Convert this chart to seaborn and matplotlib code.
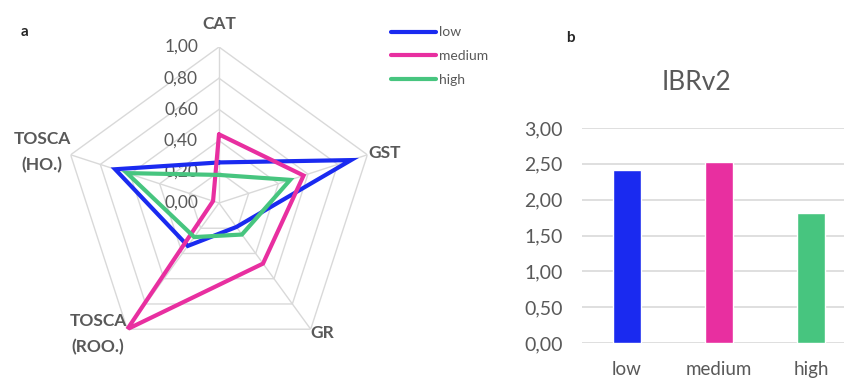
import numpy as np
import pandas as pd
import seaborn as sns
import matplotlib
matplotlib.use("Agg")
import matplotlib.pyplot as plt
import matplotlib.transforms as mtransforms

# radar data (panel a)
axes_labels = ["CAT", "GST", "GR", "TOSCA\n(ROO.)", "TOSCA\n(HO.)"]
low_vals = [0.26, 0.89, 0.19, 0.34, 0.70]
medium_vals = [0.44, 0.57, 0.48, 1.00, 0.04]
high_vals = [0.18, 0.48, 0.25, 0.27, 0.62]
radial_ticks = [0.0, 0.2, 0.4, 0.6, 0.8, 1.0]

# bar data (panel b)
groups = ["low", "medium", "high"]
ibr_vals = [2.42, 2.53, 1.82]
bar_ticks = [0.0, 0.5, 1.0, 1.5, 2.0, 2.5, 3.0]

colors = {"low": "#1a2af0", "medium": "#e82fa0", "high": "#47c57f"}
grey = "#595959"
gridc = "#d9d9d9"

sns.set_style("white")
plt.rcParams["font.family"] = ["Lato", "DejaVu Sans"]

fig = plt.figure(figsize=(8.45, 3.78), dpi=100)

# ---- radar ----
ax = fig.add_axes([63 / 845, 19 / 378, 312 / 845, 312 / 378], projection="polar")
ax.set_theta_zero_location("N")
ax.set_theta_direction(-1)
theta = np.deg2rad(np.arange(len(axes_labels)) * 72.0)
theta_c = np.append(theta, theta[0])
ax.set_ylim(0, 1)
ax.grid(False)
ax.spines["polar"].set_visible(False)
ax.set_xticks([])
ax.set_yticks([])
ax.patch.set_alpha(0)

for lev in radial_ticks[1:]:
    ax.plot(theta_c, [lev] * len(theta_c), color=gridc, lw=1, zorder=1)
for t in theta:
    ax.plot([t, t], [0, 1], color=gridc, lw=1, zorder=1)

for name, vals in [("low", low_vals), ("medium", medium_vals), ("high", high_vals)]:
    ax.plot(theta_c, vals + vals[:1], color=colors[name], lw=3, label=name,
            zorder=3, solid_joinstyle="miter")

off = mtransforms.offset_copy(ax.transData, fig=fig, x=-21, y=0, units="dots")
for lev in radial_ticks:
    ax.text(0, lev, f"{lev:.2f}".replace(".", ","), transform=off, ha="right",
            va="center", fontsize=12.5, color=grey, zorder=2)

label_pos = [(219, 24, "center"), (368, 153, "left"), (322, 333, "center"),
             (98, 334, "center"), (42, 152, "center")]
for lab, (px, py, ha) in zip(axes_labels, label_pos):
    fig.text(px / 845, 1 - py / 378, lab, ha=ha, va="center", fontsize=12.5,
             fontweight="bold", color=grey, linespacing=1.7)

fig.legend(loc="upper left", bbox_to_anchor=(379 / 845, 1 - 14 / 378), frameon=False,
           fontsize=10, handlelength=3.2, handletextpad=0.2, labelspacing=0.85,
           labelcolor=grey)

fig.text(25 / 845, 1 - 32 / 378, "a", fontsize=11, fontweight="bold", ha="center", va="center")
fig.text(570 / 845, 1 - 38 / 378, "b", fontsize=11, fontweight="bold", ha="center", va="center")

# ---- bars ----
bx = fig.add_axes([582 / 845, 35 / 378, 263 / 845, 215 / 378])
df = pd.DataFrame({"group": groups, "value": ibr_vals})
sns.barplot(data=df, x="group", y="value", hue="group", palette=colors, width=0.3,
            legend=False, ax=bx, saturation=1, zorder=3)
bx.set_ylim(0, 3)
bx.set_xlim(-0.49, 2.37)
bx.set_yticks(bar_ticks)
bx.set_yticklabels([f"{v:.2f}".replace(".", ",") for v in bar_ticks])
bx.yaxis.grid(True, color=gridc, lw=1.2, zorder=0)
bx.set_axisbelow(True)
for s in bx.spines.values():
    s.set_visible(False)
bx.set_xlabel("")
bx.set_ylabel("")
bx.tick_params(axis="y", length=0, pad=14, labelsize=14, labelcolor=grey)
bx.tick_params(axis="x", length=0, pad=13, labelsize=13.5, labelcolor=grey)
fig.text(697 / 845, 1 - 83 / 378, "IBRv2", ha="center", va="center", fontsize=19, color=grey)

fig.savefig("out.png", dpi=100)
